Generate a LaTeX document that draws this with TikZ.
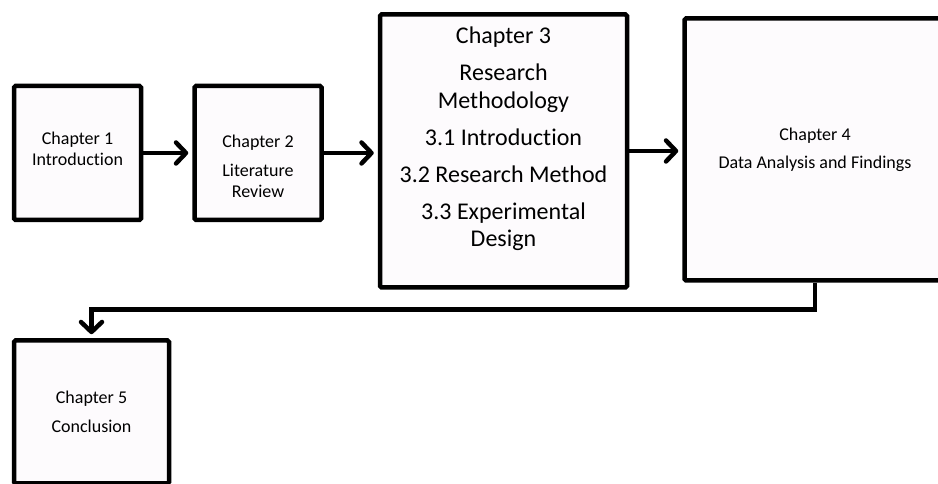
\documentclass[tikz,border=0pt]{standalone}
\usepackage{fontspec}
\setmainfont{Carlito}[Ligatures=NoCommon]
\usetikzlibrary{arrows.meta,positioning}
\definecolor{boxfill}{RGB}{253,251,253}

\begin{document}
\begin{tikzpicture}[x=1pt,y=1pt,
    chap/.style={draw,line width=4.5pt,fill=boxfill,rounded corners=1.5pt,inner sep=0pt},
    txt/.style={align=center,font=\fontsize{18}{21}\selectfont,inner sep=0pt},
    bigtxt/.style={align=center,font=\fontsize{24}{27.5}\selectfont,inner sep=0pt},
    flow/.style={line width=4.5pt,-{Straight Barb[length=10pt,width=21pt,round]},shorten >=4pt}]

  \useasboundingbox (0,0) rectangle (938,484);
  \clip (0,0) rectangle (938,484);

  % chapter boxes
  \node[chap,minimum width=127pt,minimum height=134pt] (intro) at (77.5,331) {};
  \node[chap,minimum width=127pt,minimum height=134pt] (lit) [right=49pt of intro] {};
  \node[chap,minimum width=247pt,minimum height=273pt] (method) [right=54pt of lit,yshift=2pt] {};
  \node[chap,minimum width=261pt,minimum height=262pt] (analysis) [right=53pt of method,yshift=1.5pt] {};
  \node[chap,minimum width=155pt,minimum height=143pt] (concl) [below=116pt of intro.south west,anchor=north west] {};

  % texts
  \node[txt] (introtxt) at ([yshift=4pt]intro) {Chapter 1\\Introduction};
  \node[txt] (littxt) at ([yshift=-13pt]lit) {Chapter 2\\[8pt]Literature\\Review};
  \node[bigtxt] (methodtxt) at ([yshift=12pt]method) {Chapter 3\\[9.5pt]Research\\Methodology\\[9.5pt]3.1 Introduction\\[9.5pt]3.2 Research Method\\[9.5pt]3.3 Experimental\\Design};
  \node[txt] (analysistxt) at (analysis) {Chapter 4\\[7pt]Data Analysis and Findings};
  \node[txt] (concltxt) at (concl) {Chapter 5\\[8pt]Conclusion};

  \draw[flow] (intro) -- (lit);
  \draw[flow] (lit) -- (lit -| method.west);
  \draw[flow] (method) -- (method -| analysis.west);
  \draw[flow] (analysis.south) -- ++(0,-27) -| (concl.north);

\end{tikzpicture}
\end{document}
